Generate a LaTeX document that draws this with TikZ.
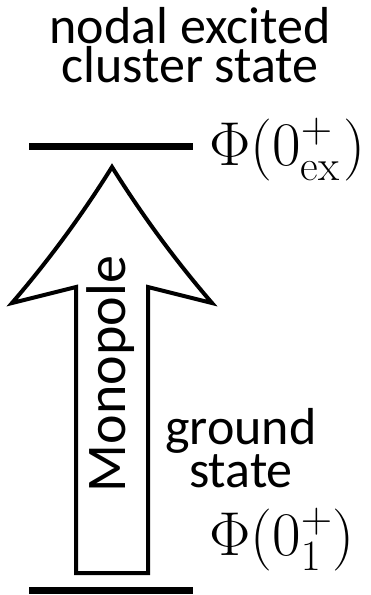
\RequirePackage{fix-cm}
\documentclass[tikz,border=0pt]{standalone}
\usepackage{fontspec}
\newfontfamily\carl{Carlito}
\begin{document}
\begin{tikzpicture}[x=1pt,y=-1pt,
  level/.style={line width=7pt},
  arrowbody/.style={draw=black,fill=white,line width=4pt,line join=miter},
  lab/.style={inner sep=0pt,font=\carl\fontsize{52}{39}\selectfont,align=center},
  philab/.style={inner sep=0pt,anchor=base west,font=\fontsize{62}{64}\selectfont}]
\useasboundingbox (0,0) rectangle (370,595);
% levels
\coordinate (exL) at (29,146); \coordinate (exR) at (193,146);
\coordinate (gsL) at (29,590.5); \coordinate (gsR) at (193,590.5);
\draw[level] (exL) -- (exR);
\draw[level] (gsL) -- (gsR);
% arrow
\coordinate (tip) at (112,167);
\coordinate (lw) at (12,303);
\coordinate (rw) at (212,303);
\coordinate (ls) at (76,287);
\coordinate (rs) at (148,287);
\coordinate (lb) at (76,573);
\coordinate (rb) at (148,573);
\draw[arrowbody] (tip) .. controls (82,215) and (49,260) .. (lw) -- (ls) -- (lb) -- (rb) -- (rs) -- (rw)
  .. controls (175,260) and (142,215) .. (tip) -- cycle;
\node[inner sep=0pt,rotate=90,anchor=base,font=\carl\fontsize{56}{60}\selectfont] (mono) at (125,374) {Monopole};
% labels
\node[lab,anchor=base] (top) at (190,82) {nodal excited\\cluster state};
\node[lab,anchor=base] (gs) at (241,487) {ground\\state};
\node[philab] (phiex) at (209,165) {$\Phi(0^+_{\mathrm{ex}}\mkern1mu)$};
\node[philab] (phigs) at (209,555) {$\Phi(0^+_1)$};
\end{tikzpicture}
\end{document}
